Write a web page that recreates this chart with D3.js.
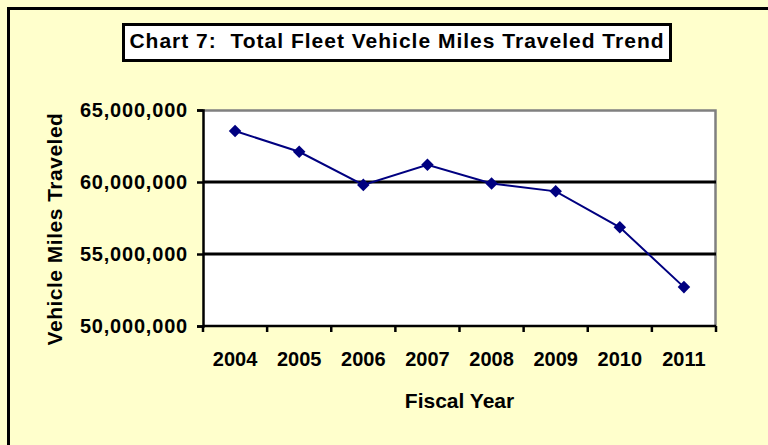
<!DOCTYPE html>
<html>
<head>
<meta charset="utf-8">
<script src="https://cdn.jsdelivr.net/npm/d3@7"></script>
<style>
  body { margin: 0; background: #ffffcc; }
  text { font-family: "Liberation Sans", Arial, sans-serif; font-weight: bold; fill: #000; }
</style>
</head>
<body>
<div id="chart"></div>
<script>
const years = ['2004', '2005', '2006', '2007', '2008', '2009', '2010', '2011'];
const miles = [63540000, 62100000, 59800000, 61200000, 59900000, 59350000, 56850000, 52700000];
const yTicks = [50000000, 55000000, 60000000, 65000000];

const svgWidth = 768;
const svgHeight = 445;
const margin = { top: 110, right: 52, bottom: 119, left: 203 };
const chartWidth = svgWidth - margin.left - margin.right;
const chartHeight = svgHeight - margin.top - margin.bottom;

const svg = d3.select('#chart').append('svg').attr('width', svgWidth).attr('height', svgHeight);

// background + outer frame (only left/top edges visible in the crop)
svg.append('rect').attr('width', svgWidth).attr('height', svgHeight).attr('fill', '#ffffcc');
svg.append('path').attr('d', 'M8.5,445 V8.5 H768').attr('fill', 'none').attr('stroke', '#000').attr('stroke-width', 3);

// title box
svg.append('rect').attr('x', 123.5).attr('y', 24.5).attr('width', 547).attr('height', 36)
  .attr('fill', '#fff').attr('stroke', '#000').attr('stroke-width', 3);
svg.append('text').attr('x', 397).attr('y', 48).attr('text-anchor', 'middle')
  .style('font-size', '21px').style('letter-spacing', '1px').attr('xml:space', 'preserve')
  .text('Chart 7:  Total Fleet Vehicle Miles Traveled Trend');

const chart = svg.append('g').attr('transform', `translate(${margin.left},${margin.top})`);

const xScale = d3.scaleBand().domain(years).range([0, chartWidth]);
const yScale = d3.scaleLinear().domain([50000000, 65000000]).range([chartHeight, 0]);

// plot area with grey shadow frame on top/right
chart.append('rect').attr('width', chartWidth).attr('height', chartHeight).attr('fill', '#fff');
chart.append('path').attr('d', `M0,0.5 H${chartWidth - 0.5} V${chartHeight}`)
  .attr('fill', 'none').attr('stroke', '#808080').attr('stroke-width', 2.5);

// gridlines
chart.selectAll('.grid').data(yTicks.slice(1, -1)).enter().append('line')
  .attr('class', 'grid')
  .attr('x1', 0).attr('x2', chartWidth)
  .attr('y1', d => yScale(d)).attr('y2', d => yScale(d))
  .attr('stroke', '#000').attr('stroke-width', 3);

// y axis
const yAxis = chart.append('g')
  .call(d3.axisLeft(yScale).tickValues(yTicks).tickSize(6).tickPadding(9).tickFormat(d3.format(',')));
yAxis.selectAll('text').style('font-size', '20px').style('letter-spacing', '0.8px').attr('font-family', null);
yAxis.selectAll('line, path').attr('stroke', '#000').attr('stroke-width', 2.5);

// x axis with ticks at band edges
const edges = years.map(y => xScale(y)).concat([chartWidth]);
const xAxis = chart.append('g').attr('transform', `translate(0,${chartHeight})`);
xAxis.append('line').attr('x1', 0).attr('x2', chartWidth).attr('stroke', '#000').attr('stroke-width', 2.5);
xAxis.selectAll('.xtick').data(edges).enter().append('line')
  .attr('x1', d => d).attr('x2', d => d).attr('y1', 0).attr('y2', 6)
  .attr('stroke', '#000').attr('stroke-width', 2.5);
xAxis.selectAll('.xlabel').data(years).enter().append('text')
  .attr('x', d => xScale(d) + xScale.bandwidth() / 2)
  .attr('y', 40)
  .attr('text-anchor', 'middle')
  .style('font-size', '20px')
  .text(d => d);

// line + diamond markers
const pts = years.map((y, i) => ({ year: y, value: miles[i] }));
const line = d3.line().x(d => xScale(d.year) + xScale.bandwidth() / 2).y(d => yScale(d.value));
chart.append('path').datum(pts).attr('d', line)
  .attr('fill', 'none').attr('stroke', '#000080').attr('stroke-width', 2);
chart.selectAll('.pt').data(pts).enter().append('path')
  .attr('d', d3.symbol().type(d3.symbolDiamond2).size(100))
  .attr('transform', d => `translate(${xScale(d.year) + xScale.bandwidth() / 2},${yScale(d.value)})`)
  .attr('fill', '#000080');

// axis titles
svg.append('text')
  .attr('transform', 'translate(62,229) rotate(-90)')
  .attr('text-anchor', 'middle')
  .style('font-size', '21px').style('letter-spacing', '0.5px')
  .text('Vehicle Miles Traveled');

svg.append('text')
  .attr('x', margin.left + chartWidth / 2)
  .attr('y', 408)
  .attr('text-anchor', 'middle')
  .style('font-size', '21px')
  .text('Fiscal Year');
</script>
</body>
</html>
